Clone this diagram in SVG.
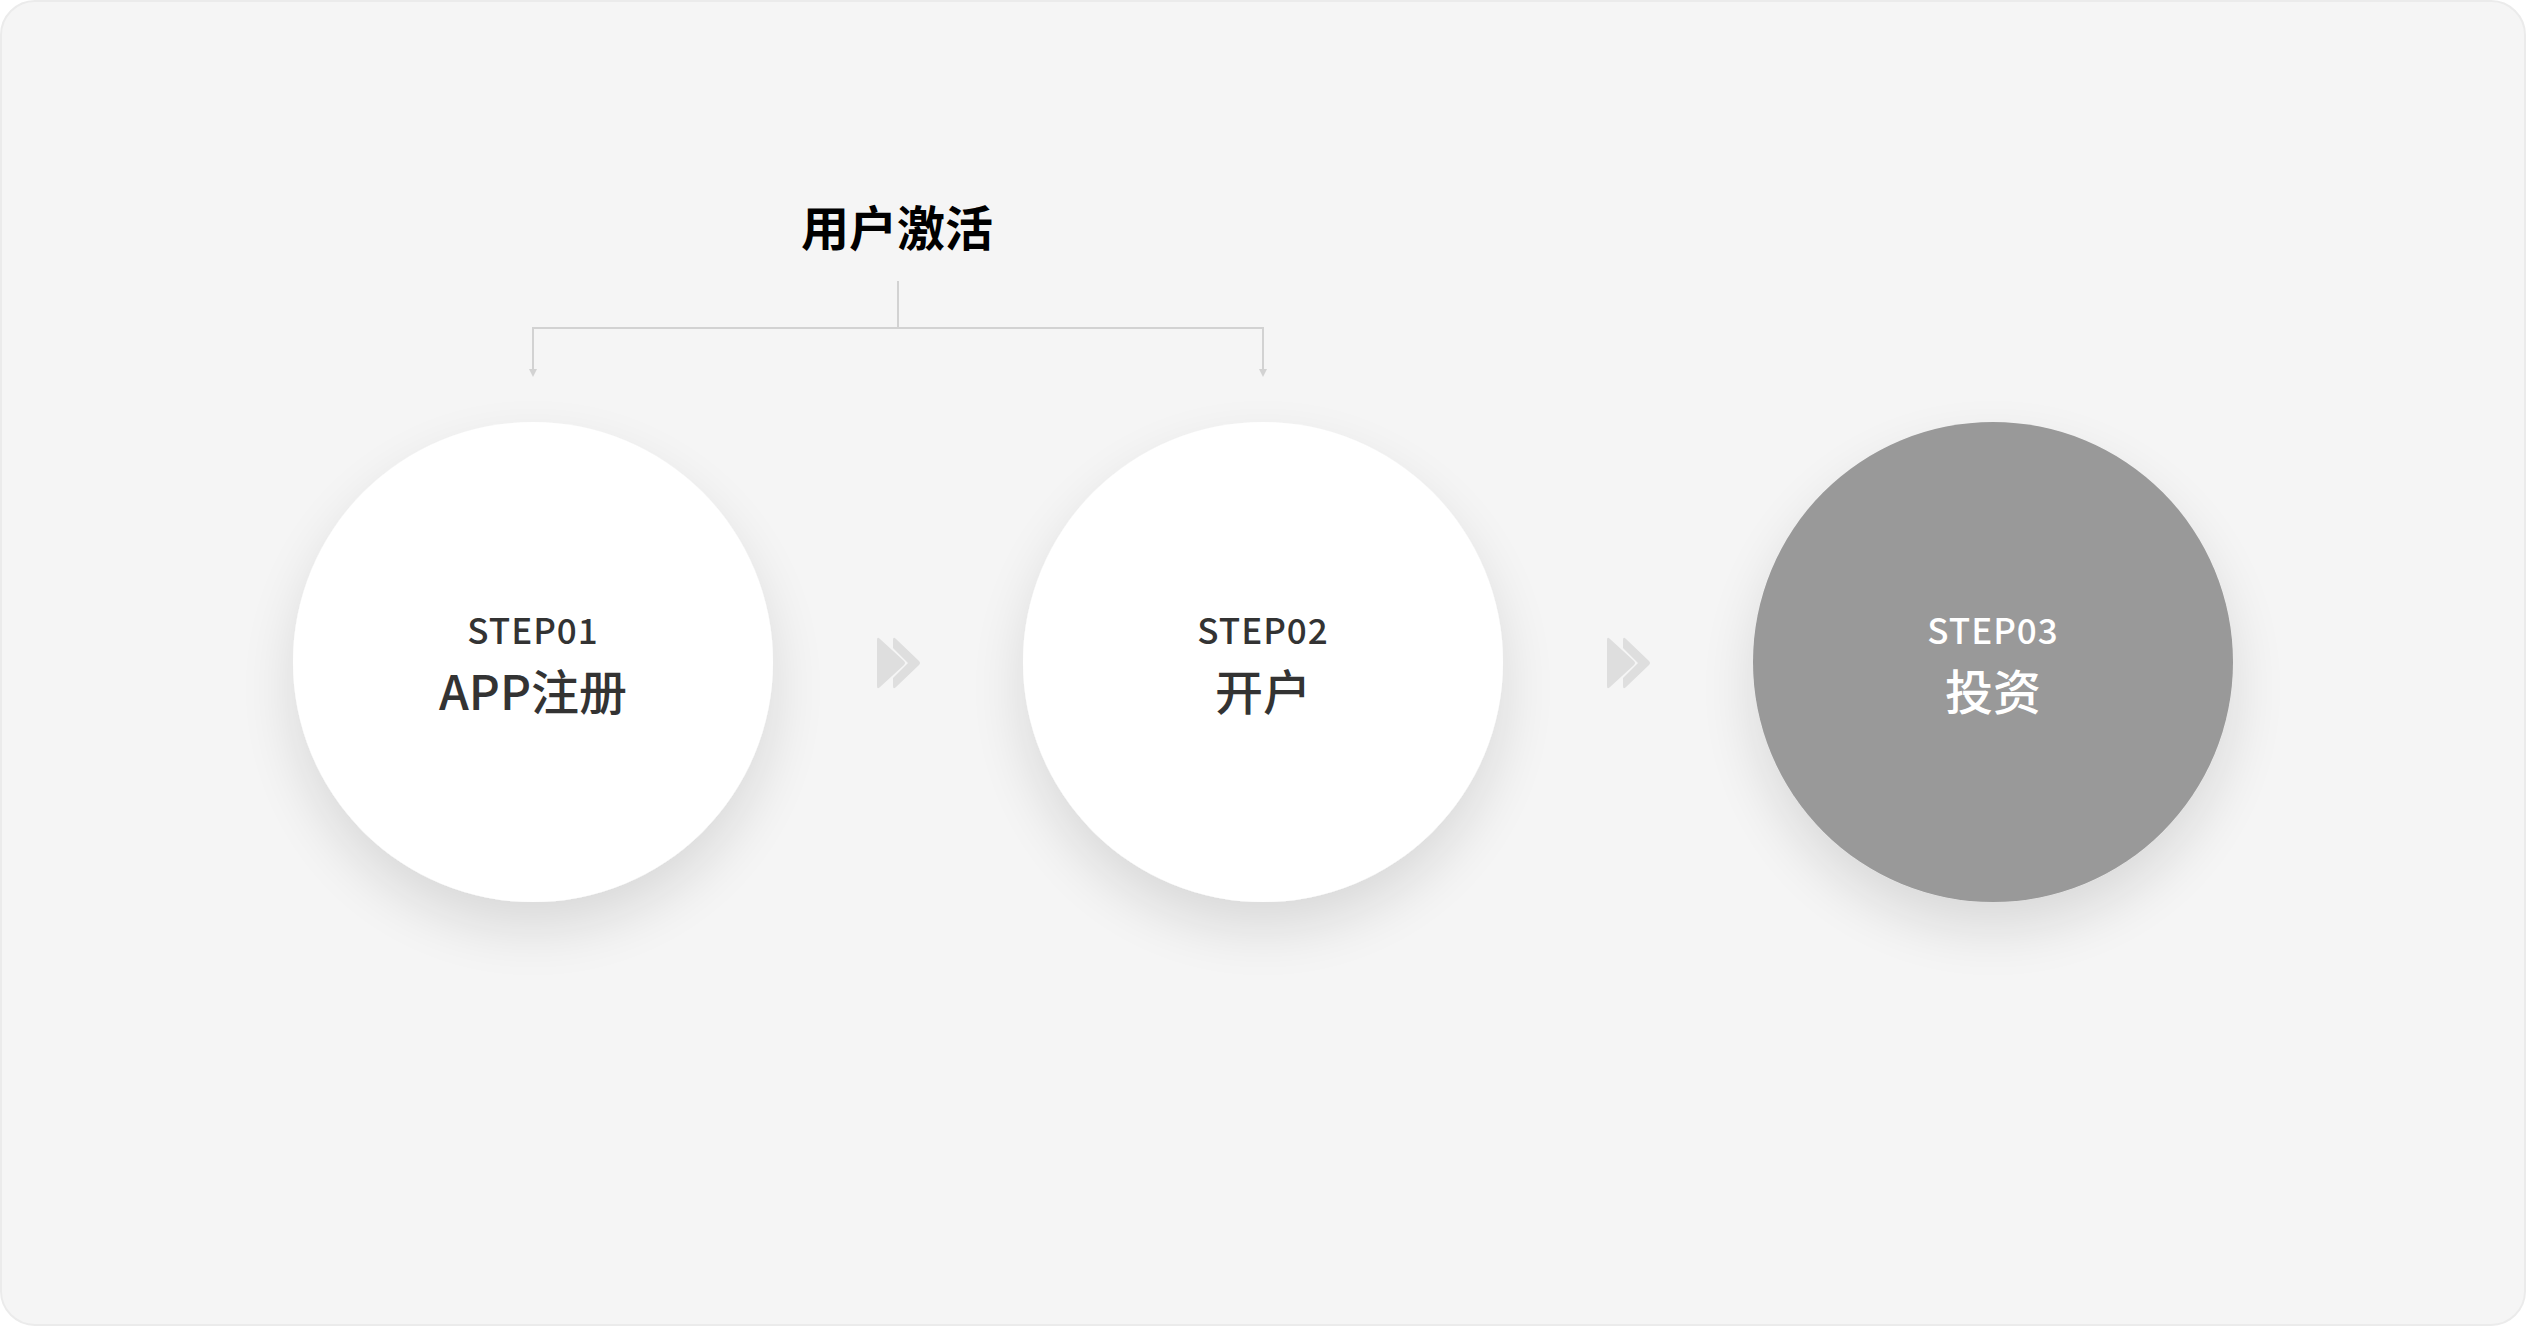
<svg xmlns="http://www.w3.org/2000/svg" width="2526" height="1326" viewBox="0 0 2526 1326">
<defs>
<filter id="sh" x="-40%" y="-40%" width="180%" height="200%">
<feGaussianBlur in="SourceAlpha" stdDeviation="28"/>
<feOffset dx="0" dy="26" result="b"/>
<feComponentTransfer><feFuncA type="linear" slope="0.12"/></feComponentTransfer>
<feMerge><feMergeNode/><feMergeNode in="SourceGraphic"/></feMerge>
</filter>
</defs>
<style>
.step{font-family:"Noto Sans CJK SC","Noto Sans",sans-serif;font-size:35px;font-weight:500;fill:#333;text-anchor:middle;letter-spacing:1px}
.lbl{font-family:"Noto Sans CJK SC","Noto Sans",sans-serif;font-size:48px;font-weight:500;fill:#333;text-anchor:middle}
.title{font-family:"Noto Sans CJK SC","Noto Sans",sans-serif;font-size:48px;font-weight:700;fill:#000;text-anchor:middle}
.conn{fill:none;stroke:#d2d2d2;stroke-width:2}
.head{fill:#d2d2d2}
.chev{fill:#dedede}
</style>
<rect x="1" y="1" width="2524" height="1324" rx="34" fill="#f5f5f5" stroke="#ebebeb" stroke-width="2"/>
<g id="title">
<text class="title" x="897" y="246">用户激活</text>
</g>
<g id="connectors">
<path class="conn" d="M898,281 V328"/>
<path class="conn" d="M533,369 V328 H1263 V369"/>
<path class="head" d="M529,369 L537,369 L533,377 Z"/>
<path class="head" d="M1259,369 L1267,369 L1263,377 Z"/>
<g id="chev1">
<path class="chev" d="M877,640 Q877,636 880,639 L904,661 Q906,663 904,665 L880,687 Q877,690 877,686 Z"/>
<path class="chev" d="M893,640 Q893,636 896,639 L919,661 Q921,663 919,665 L896,687 Q893,690 893,686 L893,678 L908,663 L893,648 Z"/>
</g>
<g id="chev2">
<path class="chev" d="M1607,640 Q1607,636 1610,639 L1634,661 Q1636,663 1634,665 L1610,687 Q1607,690 1607,686 Z"/>
<path class="chev" d="M1623,640 Q1623,636 1626,639 L1649,661 Q1651,663 1649,665 L1626,687 Q1623,690 1623,686 L1623,678 L1638,663 L1623,648 Z"/>
</g>
</g>
<g id="step1">
<circle cx="533" cy="662" r="240" fill="#ffffff" filter="url(#sh)"/>
<text class="step" x="533" y="644">STEP01</text>
<text class="lbl" x="533" y="710">APP注册</text>
</g>
<g id="step2">
<circle cx="1263" cy="662" r="240" fill="#ffffff" filter="url(#sh)"/>
<text class="step" x="1263" y="644">STEP02</text>
<text class="lbl" x="1263" y="710">开户</text>
</g>
<g id="step3">
<circle cx="1993" cy="662" r="240" fill="#999999" filter="url(#sh)"/>
<text class="step" x="1993" y="644" style="fill:#fff">STEP03</text>
<text class="lbl" x="1993" y="710" style="fill:#fff">投资</text>
</g>
</svg>
